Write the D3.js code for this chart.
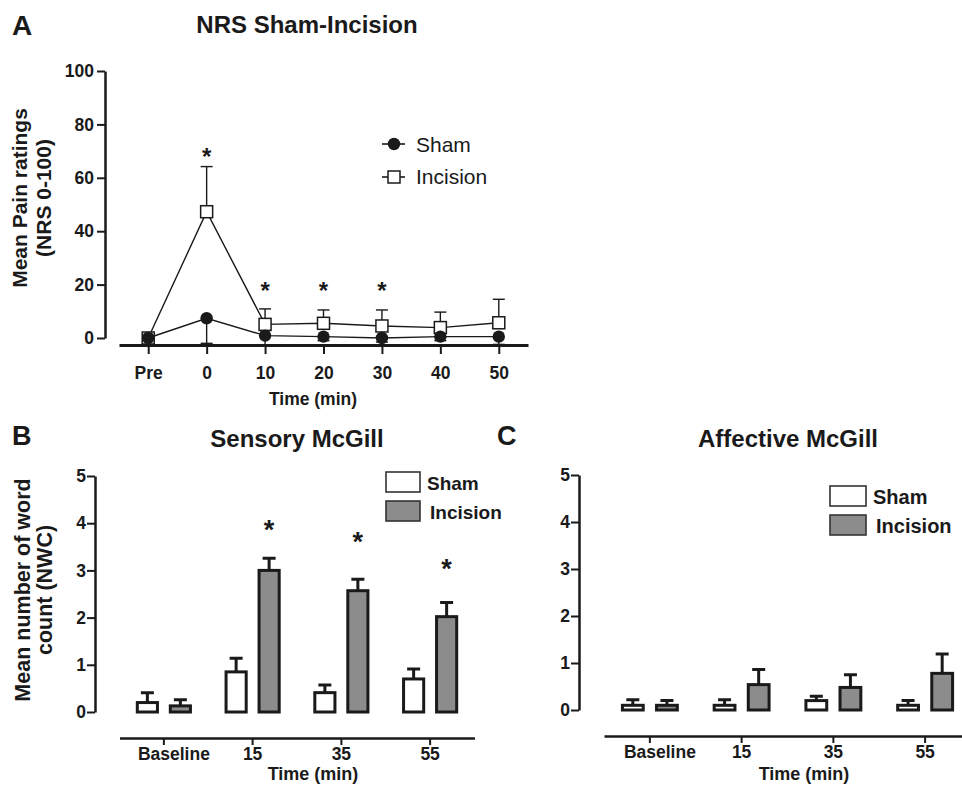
<!DOCTYPE html>
<html>
<head>
<meta charset="utf-8">
<script src="https://cdn.jsdelivr.net/npm/d3@7"></script>
<style>
  body { margin: 0; background: #fff; }
  svg { font-family: "Liberation Sans", Arial, sans-serif; }
  .axis path, .axis line { stroke: #1a1a1a; }
  .axis text { fill: #1a1a1a; font-weight: bold; }
</style>
</head>
<body>
<div id="chart"></div>
<script>
// Panel A - NRS ratings
var timeLabels = ["Pre", "0", "10", "20", "30", "40", "50"];
var shamNRS = [0, 7.4, 0.9, 0.5, 0, 0.5, 0.5];
var shamNRSErr = [0, 9.4, 3.5, 1.5, 1.5, 1.5, 2.9];
var incisionNRS = [0, 47.3, 5.1, 5.5, 4.5, 3.9, 5.7];
var incisionNRSErr = [0, 16.9, 5.8, 5.0, 6.0, 5.8, 8.8];
var starTimesA = ["0", "10", "20", "30"];
var starLevelsA = [70, 20, 20, 20];
var nrsTicks = [0, 20, 40, 60, 80, 100];

// Panels B and C - McGill word counts
var mcgillGroups = ["Baseline", "15", "35", "55"];
var seriesNames = ["Sham", "Incision"];
var shamSensory = [0.2, 0.85, 0.41, 0.7];
var shamSensoryErr = [0.21, 0.29, 0.16, 0.21];
var incisionSensory = [0.13, 3.0, 2.57, 2.02];
var incisionSensoryErr = [0.13, 0.26, 0.24, 0.3];
var starGroupsB = ["15", "35", "55"];
var starLevelsB = [4.0, 3.75, 3.17];
var shamAffective = [0.1, 0.1, 0.2, 0.1];
var shamAffectiveErr = [0.12, 0.12, 0.09, 0.1];
var incisionAffective = [0.1, 0.54, 0.48, 0.78];
var incisionAffectiveErr = [0.1, 0.32, 0.27, 0.41];
var wordTicks = [0, 1, 2, 3, 4, 5];

var ink = "#1a1a1a";
var grey = "#8c8c8c";

var svg = d3.select("#chart").append("svg")
  .attr("width", 962)
  .attr("height", 785);

var text = function(x, y, str, size, weight, anchor) {
  return svg.append("text")
    .attr("x", x).attr("y", y)
    .attr("fill", ink)
    .style("font-size", size + "px")
    .style("font-weight", weight || "bold")
    .attr("text-anchor", anchor || "start")
    .text(str);
};

var rotLabel = function(x, y, str, size) {
  svg.append("text")
    .attr("transform", "translate(" + x + "," + y + ") rotate(-90)")
    .attr("text-anchor", "middle")
    .attr("fill", ink)
    .style("font-size", size + "px").style("font-weight", "bold")
    .text(str);
};

// ---------- Panel A ----------
text(12, 35, "A", 28);
text(307, 33, "NRS Sham-Incision", 24, "bold", "middle");

var xA = d3.scalePoint().domain(timeLabels).range([119, 528]).padding(0.5);
var yA = d3.scaleLinear().domain([0, 100]).range([338, 71]);

svg.append("g")
  .attr("class", "axis")
  .attr("transform", "translate(105,0)")
  .call(d3.axisLeft(yA).tickValues(nrsTicks).tickSize(8).tickSizeOuter(0).tickPadding(3))
  .call(function(g) {
    g.select(".domain").attr("stroke-width", 2.5);
    g.selectAll(".tick line").attr("stroke-width", 2);
    g.selectAll("text").style("font-size", "17.5px");
  });

svg.append("g")
  .attr("class", "axis")
  .attr("transform", "translate(0,345)")
  .call(d3.axisBottom(xA).tickSize(9).tickSizeOuter(0).tickPadding(13))
  .call(function(g) {
    g.select(".domain").attr("stroke-width", 3);
    g.selectAll(".tick line").attr("stroke-width", 2);
    g.selectAll("text").style("font-size", "17.5px");
  });

text(313, 405, "Time (min)", 17.5, "bold", "middle");

rotLabel(27, 198, "Mean Pain ratings", 21);
rotLabel(51, 198, "(NRS 0-100)", 21);

var nrsLine = d3.line()
  .x(function(d) { return xA(d.t); })
  .y(function(d) { return yA(d.v); });

var incData = timeLabels.map(function(t, i) { return { t: t, v: incisionNRS[i], e: incisionNRSErr[i] }; });
var shamData = timeLabels.map(function(t, i) { return { t: t, v: shamNRS[i], e: shamNRSErr[i] }; });

var gA = svg.append("g");

// error bars: incision up, sham down
var drawErr = function(data, dir) {
  var eb = gA.append("g").selectAll("g").data(data.filter(function(d) { return d.e > 0; }))
    .enter().append("g")
    .attr("stroke", ink).attr("stroke-width", 1.4);
  eb.append("line")
    .attr("x1", function(d) { return xA(d.t); })
    .attr("x2", function(d) { return xA(d.t); })
    .attr("y1", function(d) { return yA(d.v); })
    .attr("y2", function(d) { return yA(d.v + dir * d.e); });
  eb.append("line")
    .attr("x1", function(d) { return xA(d.t) - 6; })
    .attr("x2", function(d) { return xA(d.t) + 6; })
    .attr("y1", function(d) { return yA(d.v + dir * d.e); })
    .attr("y2", function(d) { return yA(d.v + dir * d.e); });
};
drawErr(incData, 1);
drawErr(shamData, -1);

gA.append("path").attr("d", nrsLine(incData))
  .attr("fill", "none").attr("stroke", ink).attr("stroke-width", 1.4);
gA.append("path").attr("d", nrsLine(shamData))
  .attr("fill", "none").attr("stroke", ink).attr("stroke-width", 1.4);

gA.selectAll(".sq").data(incData).enter().append("rect")
  .attr("x", function(d) { return xA(d.t) - 6; })
  .attr("y", function(d) { return yA(d.v) - 6; })
  .attr("width", 12).attr("height", 12)
  .attr("fill", "#fff").attr("stroke", ink).attr("stroke-width", 1.5);
gA.selectAll(".dot").data(shamData).enter().append("circle")
  .attr("cx", function(d) { return xA(d.t); })
  .attr("cy", function(d) { return yA(d.v); })
  .attr("r", 6.2)
  .attr("fill", ink);

gA.selectAll(".star").data(starTimesA).enter().append("text")
  .attr("x", function(d) { return xA(d); })
  .attr("y", function(d, i) { return yA(starLevelsA[i]) + 14; })
  .attr("text-anchor", "middle")
  .attr("fill", ink)
  .style("font-size", "24px").style("font-weight", "bold")
  .text("*");

// legend A
svg.append("line").attr("x1", 382).attr("x2", 405).attr("y1", 144).attr("y2", 144)
  .attr("stroke", ink).attr("stroke-width", 1.6);
svg.append("circle").attr("cx", 394).attr("cy", 144).attr("r", 6.2).attr("fill", ink);
svg.append("line").attr("x1", 382).attr("x2", 405).attr("y1", 177).attr("y2", 177)
  .attr("stroke", ink).attr("stroke-width", 1.6);
svg.append("rect").attr("x", 388).attr("y", 171).attr("width", 12).attr("height", 12)
  .attr("fill", "#fff").attr("stroke", ink).attr("stroke-width", 1.5);
text(416, 152, "Sham", 21, "normal");
text(416, 184, "Incision", 21, "normal");

// ---------- Bar panels ----------
var drawBars = function(o) {
  var x0 = d3.scaleBand().domain(mcgillGroups).range(o.xRange);
  var x1 = d3.scaleBand().domain(seriesNames).range([0, x0.bandwidth()])
    .paddingInner(0.39).paddingOuter(0.54);
  var y = d3.scaleLinear().domain([0, 5]).range(o.yRange);

  svg.append("g")
    .attr("class", "axis")
    .attr("transform", "translate(" + o.yAxisX + ",0)")
    .call(d3.axisLeft(y).tickValues(wordTicks).tickFormat(d3.format("d"))
      .tickSize(8).tickSizeOuter(0).tickPadding(1))
    .call(function(g) {
      g.select(".domain").attr("stroke-width", 2.5);
      g.selectAll(".tick line").attr("stroke-width", 2);
      g.selectAll("text").style("font-size", "17.5px");
    });

  svg.append("g")
    .attr("class", "axis")
    .attr("transform", "translate(0," + o.xAxisY + ")")
    .call(d3.axisBottom(x0).tickSize(7).tickSizeOuter(0).tickPadding(3))
    .call(function(g) {
      g.select(".domain").attr("stroke-width", 2.5);
      g.selectAll(".tick line").attr("stroke-width", 2);
      g.selectAll("text").style("font-size", "17.5px")
        .attr("dx", function(d) { return d === "Baseline" ? 10 : 0; });
    });

  var rows = mcgillGroups.map(function(g, i) {
    return [
      { g: g, s: "Sham", v: o.sham[i], e: o.shamErr[i] },
      { g: g, s: "Incision", v: o.inc[i], e: o.incErr[i] }
    ];
  });
  var flat = [].concat.apply([], rows);
  var cx = function(d) { return x0(d.g) + x1(d.s) + x1.bandwidth() / 2; };

  var gb = svg.append("g");
  gb.selectAll(".err").data(flat).enter().append("path")
    .attr("d", function(d) {
      var c = cx(d), top = y(d.v + d.e);
      return "M" + c + "," + y(d.v) + "V" + top + "M" + (c - 6.5) + "," + top + "H" + (c + 6.5);
    })
    .attr("fill", "none").attr("stroke", ink).attr("stroke-width", 3);
  gb.selectAll(".bar").data(flat).enter().append("rect")
    .attr("x", function(d) { return x0(d.g) + x1(d.s); })
    .attr("y", function(d) { return y(d.v); })
    .attr("width", x1.bandwidth())
    .attr("height", function(d) { return y(0) - y(d.v); })
    .attr("fill", function(d) { return d.s === "Sham" ? "#fff" : grey; })
    .attr("stroke", ink).attr("stroke-width", 3);

  if (o.stars) {
    gb.selectAll(".star").data(o.stars).enter().append("text")
      .attr("x", function(d) { return x0(d) + x1("Incision") + x1.bandwidth() / 2; })
      .attr("y", function(d, i) { return y(o.starLevels[i]) + 16; })
      .attr("text-anchor", "middle")
      .attr("fill", ink)
      .style("font-size", "27px").style("font-weight", "bold")
      .text("*");
  }

  // legend
  var lg = svg.append("g").attr("transform", "translate(" + o.legend[0] + "," + o.legend[1] + ")");
  seriesNames.forEach(function(s, i) {
    lg.append("rect")
      .attr("x", 0).attr("y", i * o.legendStep)
      .attr("width", o.legendBox[0]).attr("height", o.legendBox[1])
      .attr("fill", s === "Sham" ? "#fff" : grey)
      .attr("stroke", "#333").attr("stroke-width", 1.6);
    lg.append("text")
      .attr("x", o.legendBox[0] + 7 + (i === 1 ? 3 : 0))
      .attr("y", i * o.legendStep + o.legendBox[1] - 2)
      .attr("fill", ink)
      .style("font-size", o.legendFont + "px").style("font-weight", "bold")
      .text(s);
  });

  text(o.titleX, 447, o.title, 24, "bold", "middle");
  text(o.titleX + 16, 780, "Time (min)", 18, "bold", "middle");
};

text(12, 445, "B", 27);
text(497, 445, "C", 27);

drawBars({
  xRange: [119.5, 474.5], yRange: [712, 476], yAxisX: 95, xAxisY: 738,
  sham: shamSensory, shamErr: shamSensoryErr, inc: incisionSensory, incErr: incisionSensoryErr,
  stars: starGroupsB, starLevels: starLevelsB,
  legend: [386, 472], legendBox: [34, 20], legendStep: 29, legendFont: 19,
  title: "Sensory McGill", titleX: 297
});

drawBars({
  xRange: [604, 971], yRange: [710, 475], yAxisX: 579, xAxisY: 736,
  sham: shamAffective, shamErr: shamAffectiveErr, inc: incisionAffective, incErr: incisionAffectiveErr,
  legend: [830, 486], legendBox: [36, 20], legendStep: 29, legendFont: 20,
  title: "Affective McGill", titleX: 788
});

rotLabel(30, 590, "Mean number of word", 21.5);
rotLabel(52, 590, "count (NWC)", 21.5);
</script>
</body>
</html>
